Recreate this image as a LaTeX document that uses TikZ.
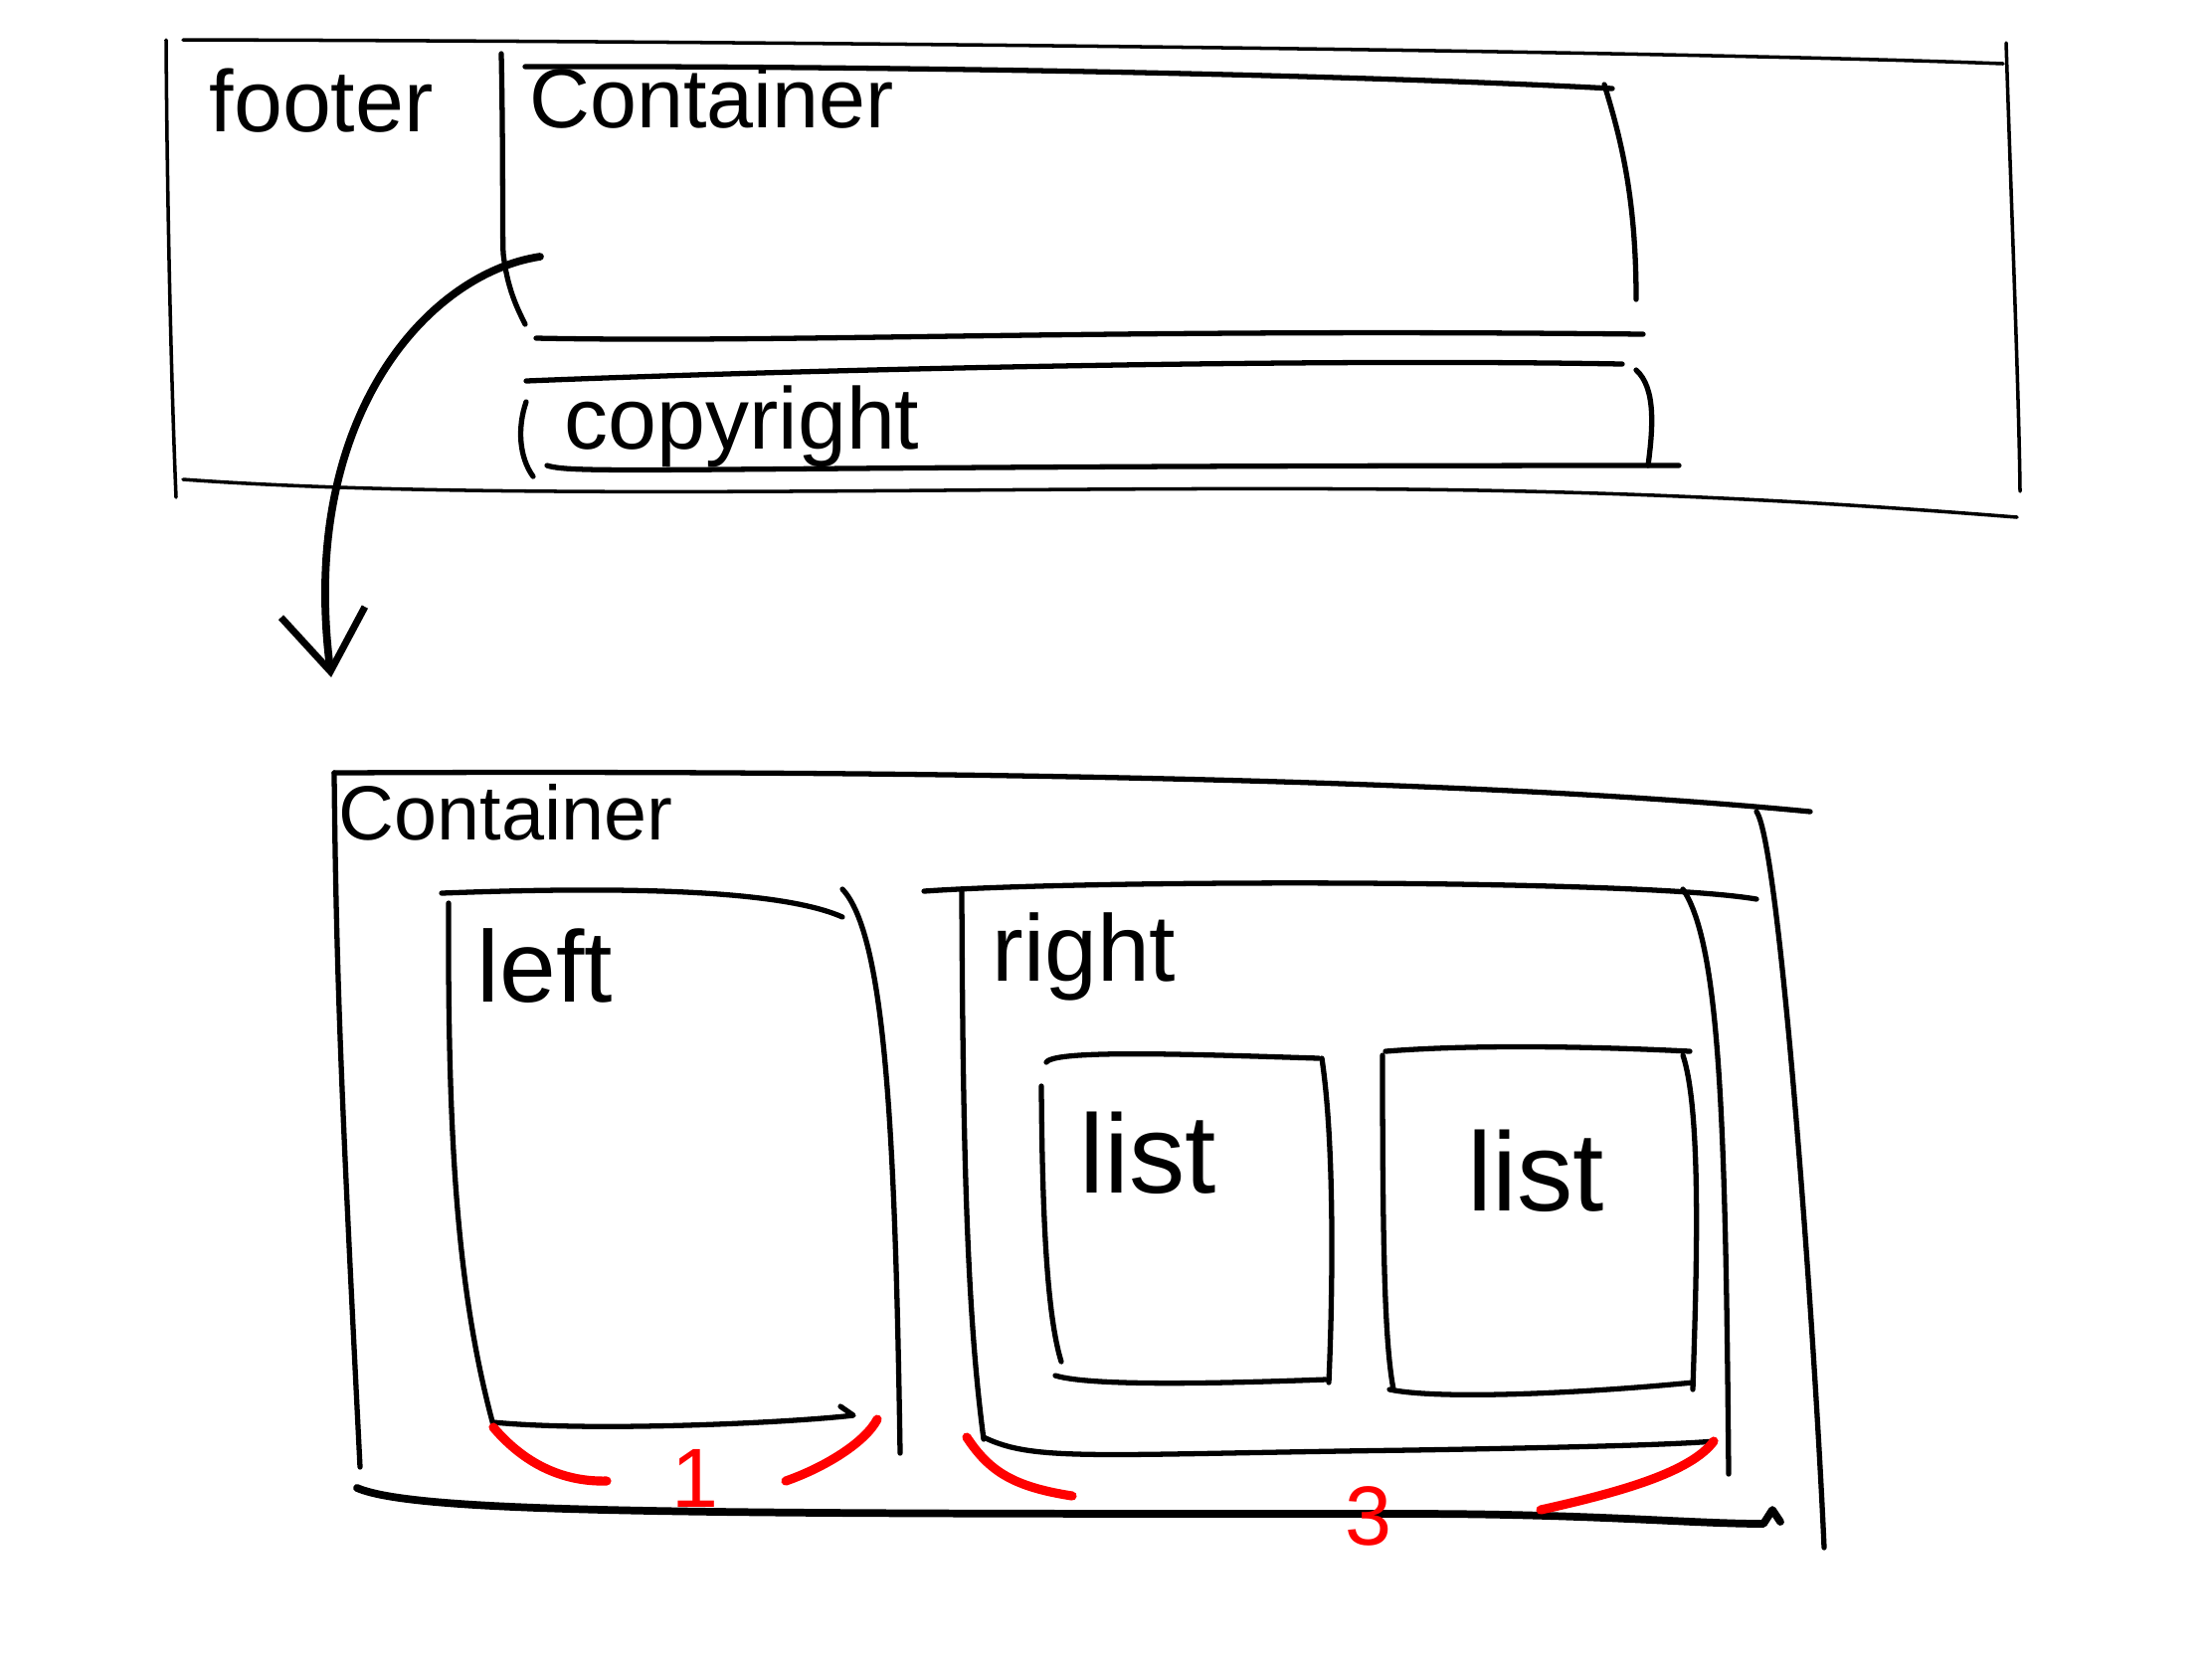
\documentclass[tikz,border=0pt]{standalone}
\usepackage{fontspec}
\setmainfont{Liberation Sans}
\usetikzlibrary{arrows.meta}

\begin{document}
\begin{tikzpicture}[
    x=0.01cm, y=-0.01cm,
    fino/.style={line width=1pt, line cap=round, line join=round},
    traco/.style={line width=1.5pt, line cap=round, line join=round},
    grosso/.style={line width=2.2pt, line cap=round, line join=round},
    marca/.style={draw=red, line width=2.6pt, line cap=round},
    seta/.style={grosso, -{Straight Barb[length=6mm, width=8.5mm, line width=2pt]}},
    rotulo/.style={anchor=base west, inner sep=0pt, text=black},
    numero/.style={anchor=base, inner sep=0pt, text=red, font=\fontsize{24}{28}\selectfont}
]
\useasboundingbox (0,0) rectangle (2224,1668);

\draw[fino] (184,40) .. controls (900,42) and (1700,52) .. (2014,64);
\draw[fino] (167,40) .. controls (168,200) and (172,380) .. (177,500);
\draw[fino] (2017,43) .. controls (2022,200) and (2030,400) .. (2031,494);
\draw[fino] (184,482) .. controls (500,505) and (1000,488) .. (1418,492) .. controls (1700,495) and (1900,510) .. (2028,520);
\node[rotulo, font=\fontsize{25}{29}\selectfont] (footer) at (210,132) {footer};

\draw[traco] (504,54) .. controls (506,150) and (505,240) .. (506,255) .. controls (510,290) and (520,310) .. (528,326);
\draw[traco] (528,67) .. controls (800,66) and (1300,72) .. (1621,89);
\draw[traco] (1613,85) .. controls (1630,140) and (1645,200) .. (1645,301);
\draw[traco] (539,340) .. controls (800,345) and (1100,330) .. (1652,336);
\node[rotulo, font=\fontsize{24}{28}\selectfont] (contA) at (532,128) {Container};

\draw[traco] (529,383) .. controls (800,372) and (1300,360) .. (1631,366);
\draw[traco] (529,404) .. controls (520,430) and (522,460) .. (536,479);
\draw[traco] (1645,372) .. controls (1665,390) and (1662,430) .. (1657,468);
\draw[traco] (550,468) .. controls (580,478) and (700,468) .. (1688,468);
\node[rotulo, font=\fontsize{25}{29}\selectfont] (copy) at (567,451) {copyright};

\coordinate (de) at (543,258);
\coordinate (para) at (333,681);
\draw[seta] (de) .. controls (430,275) and (300,420) .. (para);

\draw[traco] (336,777) .. controls (1000,774) and (1500,785) .. (1820,816);
\draw[traco] (336,777) .. controls (338,993) and (345,1135) .. (362,1475);
\draw[traco] (1766,816) .. controls (1790,850) and (1825,1350) .. (1834,1556);
\draw[grosso] (359,1496) .. controls (420,1522) and (700,1522) .. (1418,1522) .. controls (1600,1522) and (1700,1532) .. (1773,1532) -- (1782,1518) -- (1790,1530);
\node[rotulo, font=\fontsize{22}{26}\selectfont] (contB) at (340,844) {Container};

\draw[traco] (444,898) .. controls (600,892) and (780,892) .. (847,922);
\draw[traco] (451,908) .. controls (450,1150) and (460,1300) .. (496,1433);
\draw[traco] (847,894) .. controls (890,940) and (900,1135) .. (905,1461);
\draw[traco] (496,1430) .. controls (600,1440) and (800,1430) .. (858,1423) -- (845,1414);
\node[rotulo, font=\fontsize{29}{33}\selectfont] (esq) at (479,1007) {left};

\draw[traco] (929,896) .. controls (1100,884) and (1650,884) .. (1766,904);
\draw[traco] (967,896) .. controls (968,1150) and (972,1320) .. (989,1447);
\draw[traco] (1692,894) .. controls (1730,950) and (1735,1135) .. (1738,1482);
\draw[traco] (989,1445) .. controls (1040,1470) and (1100,1462) .. (1418,1458) .. controls (1600,1455) and (1690,1452) .. (1723,1449);
\node[rotulo, font=\fontsize{27}{31}\selectfont] (dir) at (997,986) {right};

\draw[traco] (1052,1068) .. controls (1060,1055) and (1200,1060) .. (1326,1064);
\draw[traco] (1047,1092) .. controls (1048,1250) and (1055,1330) .. (1067,1369);
\draw[traco] (1329,1064) .. controls (1342,1150) and (1340,1300) .. (1336,1390);
\draw[traco] (1061,1383) .. controls (1100,1395) and (1250,1390) .. (1333,1387);
\node[rotulo, font=\fontsize{32}{36}\selectfont] (listaA) at (1085,1199) {list};

\draw[traco] (1393,1057) .. controls (1480,1050) and (1600,1052) .. (1699,1057);
\draw[traco] (1390,1061) .. controls (1390,1250) and (1392,1350) .. (1401,1397);
\draw[traco] (1692,1061) .. controls (1712,1120) and (1705,1300) .. (1702,1397);
\draw[traco] (1397,1397) .. controls (1450,1408) and (1600,1400) .. (1702,1390);
\node[rotulo, font=\fontsize{32}{36}\selectfont] (listaB) at (1475,1217) {list};

\draw[marca] (496,1435) .. controls (530,1475) and (570,1490) .. (610,1489);
\draw[marca] (790,1489) .. controls (830,1475) and (870,1450) .. (882,1427);
\node[numero] (um) at (699,1515) {1};

\draw[marca] (972,1445) .. controls (995,1480) and (1020,1495) .. (1078,1504);
\draw[marca] (1549,1518) .. controls (1630,1500) and (1700,1480) .. (1723,1449);
\node[numero] (tres) at (1376,1553) {3};
\end{tikzpicture}
\end{document}
